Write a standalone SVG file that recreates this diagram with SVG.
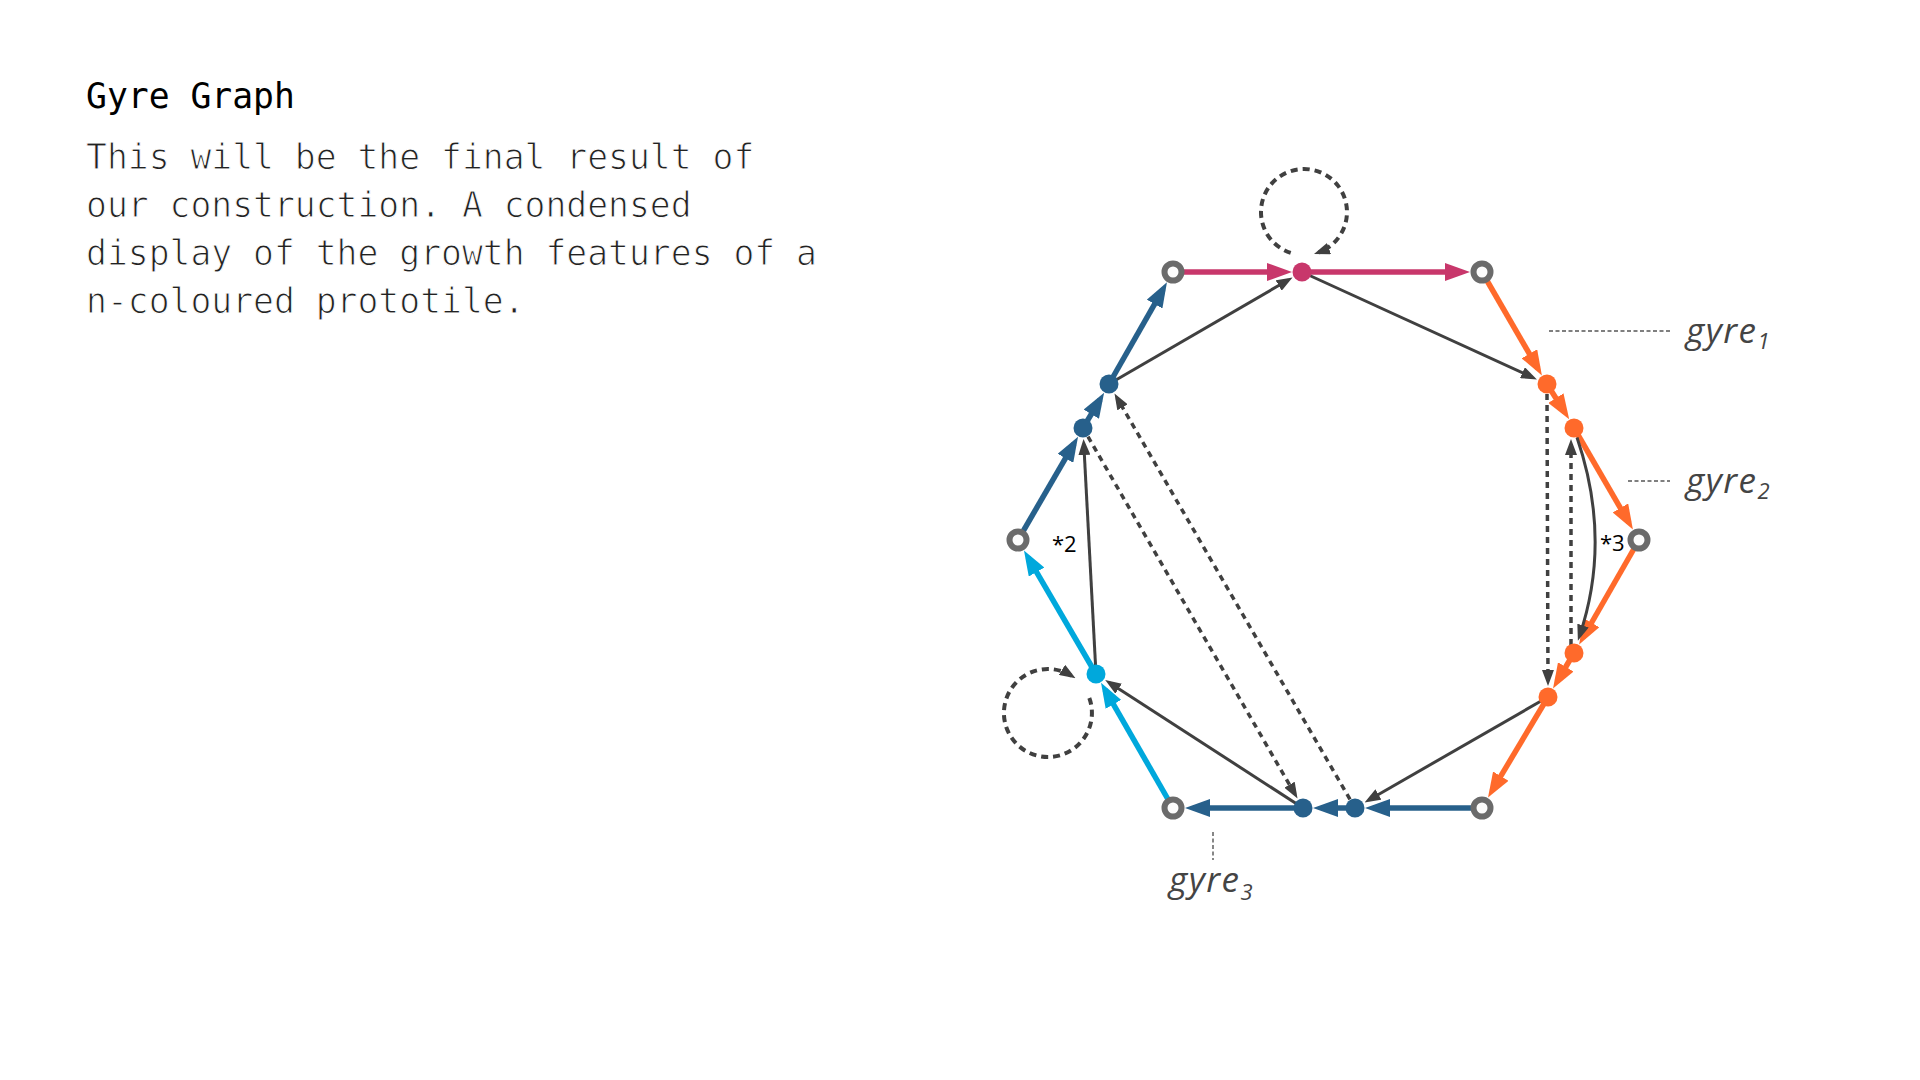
<svg xmlns="http://www.w3.org/2000/svg" width="1920" height="1080" viewBox="0 0 1920 1080">
<defs>
<style>
.title{font-family:"DejaVu Sans Mono","Liberation Mono",monospace;font-size:34.7px;fill:#000}
.body{font-family:"DejaVu Sans Mono","Liberation Mono",monospace;font-size:34.7px;fill:#222;stroke:#fff;stroke-width:1px}
.gyre{font-family:"Open Sans","Noto Sans",sans-serif;font-style:italic;font-size:35px;letter-spacing:1.5px;fill:#444}
.sub{font-size:22px;letter-spacing:0}
.mult{font-family:"Open Sans","Noto Sans",sans-serif;font-size:22px;fill:#000}
.hollow{fill:#fcfcfc;stroke:#6b6b6b;stroke-width:6}
.mag{stroke:#c8376b;stroke-width:5.5;fill:none;marker-end:url(#a-mag)}
.org{stroke:#ff6a2b;stroke-width:5.5;fill:none;marker-end:url(#a-org)}
.blu{stroke:#27608b;stroke-width:5.5;fill:none;marker-end:url(#a-blu)}
.cya{stroke:#00a8dc;stroke-width:5.5;fill:none;marker-end:url(#a-cya)}
.dark{stroke:#404040;stroke-width:3;fill:none;marker-end:url(#a-dark)}
.dash{stroke:#404040;stroke-width:3.5;stroke-dasharray:6 5;fill:none;marker-end:url(#a-dark)}
.loop{stroke:#404040;stroke-width:4;stroke-dasharray:7 5;fill:none;marker-end:url(#a-dark)}
.ptr{stroke:#555;stroke-width:1.4;stroke-dasharray:4 2.5;fill:none}
</style>
<marker id="a-mag" markerUnits="userSpaceOnUse" viewBox="0 0 25 18" markerWidth="25" markerHeight="18" refX="17" refY="9" orient="auto"><path d="M0,0 L25,9 L0,18 z" fill="#c8376b"/></marker>
<marker id="a-org" markerUnits="userSpaceOnUse" viewBox="0 0 25 18" markerWidth="25" markerHeight="18" refX="17" refY="9" orient="auto"><path d="M0,0 L25,9 L0,18 z" fill="#ff6a2b"/></marker>
<marker id="a-blu" markerUnits="userSpaceOnUse" viewBox="0 0 25 18" markerWidth="25" markerHeight="18" refX="17" refY="9" orient="auto"><path d="M0,0 L25,9 L0,18 z" fill="#27608b"/></marker>
<marker id="a-cya" markerUnits="userSpaceOnUse" viewBox="0 0 25 18" markerWidth="25" markerHeight="18" refX="17" refY="9" orient="auto"><path d="M0,0 L25,9 L0,18 z" fill="#00a8dc"/></marker>
<marker id="a-dark" markerUnits="userSpaceOnUse" viewBox="0 0 16 12" markerWidth="16" markerHeight="12" refX="11" refY="6" orient="auto"><path d="M0,0 L16,6 L0,12 z" fill="#404040"/></marker>
</defs>
<rect width="1920" height="1080" fill="#fff"/>
<g id="caption">
<text class="title" x="86" y="108">Gyre Graph</text>
<text class="body" x="86" y="168.5">This will be the final result of</text>
<text class="body" x="86" y="216.5">our construction. A condensed</text>
<text class="body" x="86" y="264.5">display of the growth features of a</text>
<text class="body" x="86" y="312.5">n-coloured prototile.</text>
</g>
<g id="connectors">
<path class="mag" d="M1173,272 L1284,272"/>
<path class="mag" d="M1302,272 L1462,272"/>
<path class="org" d="M1482,272 L1537.9,368.5"/>
<path class="org" d="M1547,384 L1564.9,412.5"/>
<path class="org" d="M1574,428 L1628.9,522.7"/>
<path class="org" d="M1639,540 L1583.1,637.5"/>
<path class="org" d="M1574,653 L1557.1,681.5"/>
<path class="org" d="M1548,697 L1492.1,790.7"/>
<path class="blu" d="M1482,808 L1373,808"/>
<path class="blu" d="M1355,808 L1321,808"/>
<path class="blu" d="M1303,808 L1193,808"/>
<path class="cya" d="M1173,808 L1105,689.6"/>
<path class="cya" d="M1096,674 L1028,557.3"/>
<path class="blu" d="M1018,540 L1074,443.6"/>
<path class="blu" d="M1083,428 L1100,399.6"/>
<path class="blu" d="M1109,384 L1163,289.3"/>
<path class="dark" d="M1109,384 L1288.2,280"/>
<path class="dark" d="M1302,272 L1532.4,377.3"/>
<path class="dark" d="M1577,437.5 Q1612,540 1579.5,636"/>
<path class="dark" d="M1548,697 L1368.9,800"/>
<path class="dark" d="M1303,808 L1109.4,682.7"/>
<path class="dark" d="M1096,674 L1083.8,444"/>
<path class="dash" d="M1547,394 L1548,681"/>
<path class="dash" d="M1571,645 L1571,444"/>
<path class="dash" d="M1088,436.7 L1295,794.2"/>
<path class="dash" d="M1350,799.4 L1117,397.8"/>
<path class="loop" d="M1290.7,252.9 A43,43 0 1 1 1318.7,252.4"/>
<path class="loop" d="M1089.3,698 A44,44 0 1 1 1071.3,675.7"/>
</g>
<g id="nodes">
<circle id="n-tl" class="hollow" cx="1173" cy="272" r="8.5"/>
<circle id="n-tr" class="hollow" cx="1482" cy="272" r="8.5"/>
<circle id="n-r" class="hollow" cx="1639" cy="540" r="8.5"/>
<circle id="n-br" class="hollow" cx="1482" cy="808" r="8.5"/>
<circle id="n-bl" class="hollow" cx="1173" cy="808" r="8.5"/>
<circle id="n-l" class="hollow" cx="1018" cy="540" r="8.5"/>
<circle id="n-m" cx="1302" cy="272" r="9.5" fill="#c8376b"/>
<circle id="n-o1" cx="1547" cy="384" r="9.5" fill="#ff6a2b"/>
<circle id="n-o2" cx="1574" cy="428" r="9.5" fill="#ff6a2b"/>
<circle id="n-o3" cx="1574" cy="653" r="9.5" fill="#ff6a2b"/>
<circle id="n-o4" cx="1548" cy="697" r="9.5" fill="#ff6a2b"/>
<circle id="n-bb" cx="1355" cy="808" r="9.5" fill="#27608b"/>
<circle id="n-ba" cx="1303" cy="808" r="9.5" fill="#27608b"/>
<circle id="n-c" cx="1096" cy="674" r="9.5" fill="#00a8dc"/>
<circle id="n-b1" cx="1083" cy="428" r="9.5" fill="#27608b"/>
<circle id="n-b2" cx="1109" cy="384" r="9.5" fill="#27608b"/>
</g>
<g id="labels">
<text class="mult" x="1052" y="552">*2</text>
<text class="mult" x="1600" y="551">*3</text>
<path class="ptr" d="M1549,331 H1670 M1628,481 H1670 M1213,832 V860"/>
<text class="gyre" x="1686" y="343">gyre<tspan class="sub" dy="6">1</tspan></text>
<text class="gyre" x="1686" y="493">gyre<tspan class="sub" dy="6">2</tspan></text>
<text class="gyre" x="1169" y="892">gyre<tspan class="sub" dy="8">3</tspan></text>
</g>
</svg>
